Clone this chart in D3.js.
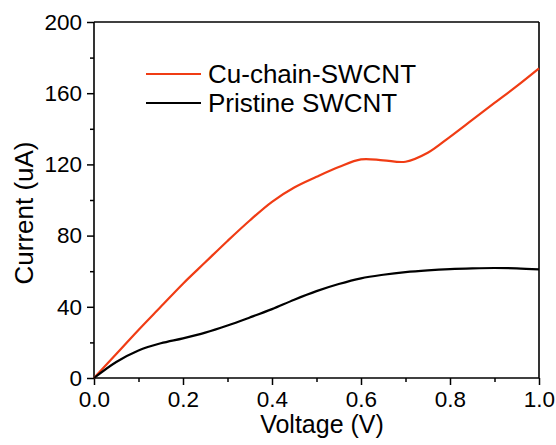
<!DOCTYPE html>
<html>
<head>
<meta charset="utf-8">
<script src="https://cdn.jsdelivr.net/npm/d3@7"></script>
<style>
  body { margin: 0; background: #fff; }
  svg text { font-family: "Liberation Sans", Arial, sans-serif; fill: #000; }
</style>
</head>
<body>
<svg id="chart" width="556" height="445"></svg>
<script>
// values
var voltage = [0, 0.05, 0.1, 0.15, 0.2, 0.25, 0.3, 0.35, 0.4, 0.45, 0.5, 0.55, 0.6, 0.65, 0.7, 0.75, 0.8, 0.85, 0.9, 0.95, 1.0];
var cuChain = [0, 13.5, 27, 40, 53, 65, 77, 88.5, 99, 107, 113, 118.5, 122.8, 122.3, 121.5, 126.5, 135.5, 145, 154.5, 164, 174];
var pristine = [0, 9, 15.5, 19.5, 22.3, 25.5, 29.5, 34, 38.7, 44, 48.8, 52.8, 56, 58, 59.5, 60.5, 61.2, 61.6, 61.8, 61.6, 61];
var seriesNames = ["Cu-chain-SWCNT", "Pristine SWCNT"];
var seriesColors = ["#f03c14", "#000000"];
var xTicks = [0, 0.2, 0.4, 0.6, 0.8, 1.0];
var yTicks = [0, 40, 80, 120, 160, 200];

var svg = d3.select("#chart");
var mLeft = 94, mRight = 539, mTop = 22, mBottom = 378;

var x = d3.scaleLinear().domain([0, 1]).range([mLeft, mRight]);
var y = d3.scaleLinear().domain([0, 200]).range([mBottom, mTop]);

// minor ticks
var minorX = d3.range(0.1, 1, 0.2);
var minorY = d3.range(20, 200, 40);

var gx = svg.append("g").attr("transform", "translate(0," + mBottom + ")")
    .call(d3.axisBottom(x).tickValues(xTicks).tickFormat(d3.format(".1f")).tickSize(7).tickPadding(6));
svg.append("g").attr("transform", "translate(0," + mBottom + ")")
    .call(d3.axisBottom(x).tickValues(minorX).tickFormat("").tickSize(4))
    .select(".domain").remove();

var gy = svg.append("g").attr("transform", "translate(" + mLeft + ",0)")
    .call(d3.axisLeft(y).tickValues(yTicks).tickFormat(d3.format("d")).tickSize(7).tickPadding(5));
svg.append("g").attr("transform", "translate(" + mLeft + ",0)")
    .call(d3.axisLeft(y).tickValues(minorY).tickFormat("").tickSize(4))
    .select(".domain").remove();

svg.selectAll(".tick line").attr("stroke-width", 1.5);
svg.selectAll(".domain").attr("stroke-width", 1.6);
svg.selectAll(".tick text").style("font-size", "22.5px");
gx.selectAll(".tick text").attr("dy", "0.71em");

// frame top and right
svg.append("line").attr("x1", mLeft).attr("x2", mRight).attr("y1", mTop).attr("y2", mTop)
    .attr("stroke", "#000").attr("stroke-width", 1.6);
svg.append("line").attr("x1", mRight).attr("x2", mRight).attr("y1", mTop).attr("y2", mBottom)
    .attr("stroke", "#000").attr("stroke-width", 1.6);
gx.select(".domain").attr("d", "M" + mLeft + ",0H" + mRight);
gy.select(".domain").attr("d", "M0," + mTop + "V" + mBottom);

var line = d3.line()
    .x(function (d, i) { return x(voltage[i]); })
    .y(function (d) { return y(d); })
    .curve(d3.curveCatmullRom.alpha(0.5));

[cuChain, pristine].forEach(function (s, i) {
    svg.append("path").datum(s)
        .attr("d", line)
        .attr("fill", "none")
        .attr("stroke", seriesColors[i])
        .attr("stroke-width", 2.2);
});

// legend
seriesNames.forEach(function (name, i) {
    var ly = 74 + i * 29;
    svg.append("line").attr("x1", 146).attr("x2", 201).attr("y1", ly).attr("y2", ly)
        .attr("stroke", seriesColors[i]).attr("stroke-width", 2);
    svg.append("text").attr("x", 208).attr("y", ly + 9).text(name).style("font-size", "26px");
});

// axis titles
svg.append("text").attr("x", 322).attr("y", 433).attr("text-anchor", "middle")
    .style("font-size", "25px").text("Voltage (V)");
svg.append("text").attr("transform", "translate(33,213) rotate(-90)").attr("text-anchor", "middle")
    .style("font-size", "26px").text("Current (uA)");
</script>
</body>
</html>
